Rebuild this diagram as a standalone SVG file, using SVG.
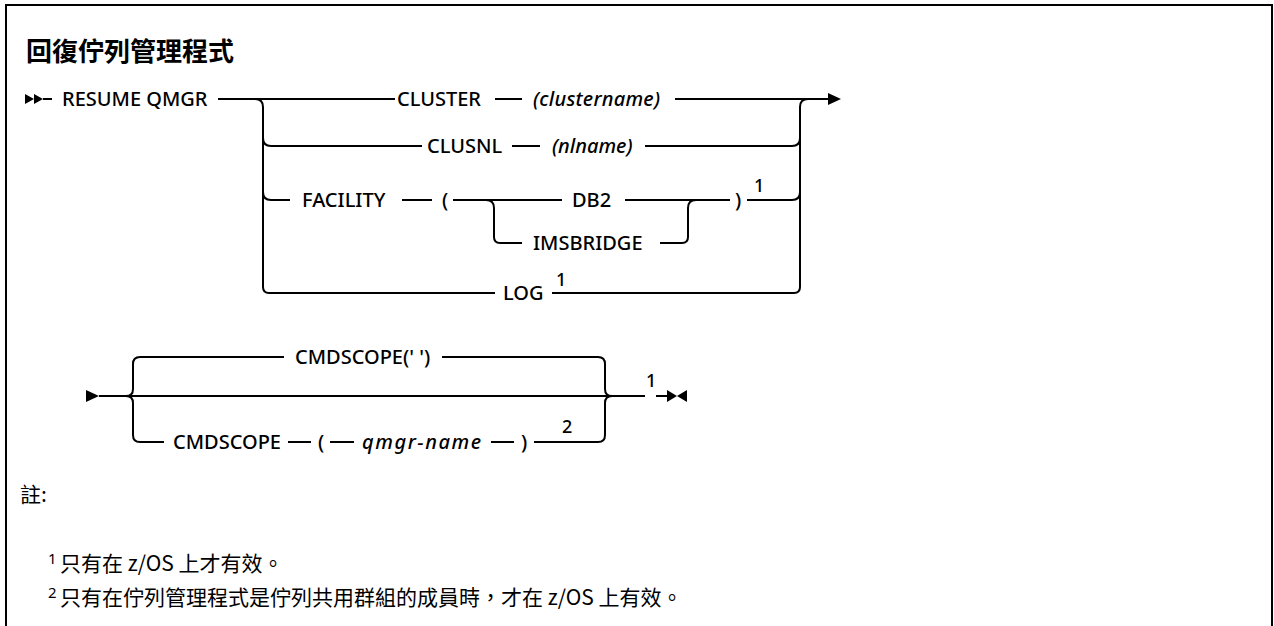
<svg xmlns="http://www.w3.org/2000/svg" width="1274" height="626" viewBox="0 0 1274 626">
<style>
.t{font-family:"Noto Sans","Liberation Sans",sans-serif;font-size:20px;font-weight:500;fill:#000}
.i{font-style:italic}
.sup{font-family:"Noto Sans","Liberation Sans",sans-serif;font-size:18px;font-weight:500;fill:#000}
.title{font-family:"Noto Sans CJK TC","Noto Sans",sans-serif;font-weight:bold;font-size:26px;fill:#000}
.note{font-family:"Noto Sans CJK TC","Noto Sans",sans-serif;font-size:21px;fill:#000}
.nsup{font-family:"Noto Sans","Noto Sans CJK TC",sans-serif;font-size:15px;fill:#000}
.ln{fill:none;stroke:#000;stroke-width:2}
.ah{fill:#000;stroke:none}
</style>
<rect x="6" y="5" width="1266" height="700" fill="#fff" stroke="#000" stroke-width="2"/>
<text class="title" x="26" y="61">回復佇列管理程式</text>
<g id="connectors">
<polygon class="ah" points="25,94 34,99 25,104"/>
<polygon class="ah" points="34,94 43,99 34,104"/>
<path class="ln" d="M43 99 H52"/>
<path class="ln" d="M218 99 H395 M495 99 H522 M675 99 H828"/>
<polygon class="ah" points="828,93 841,99 828,105"/>
<path class="ln" d="M255 99 Q263 99 263 107 V287 Q263 293 269 293 H495"/>
<path class="ln" d="M263 138 Q263 146 271 146 H422 M512 146 H540 M645 146 H792 Q800 146 800 138"/>
<path class="ln" d="M808 99 Q800 99 800 107 V287 Q800 293 794 293 H552"/>
<path class="ln" d="M263 192 Q263 200 271 200 H290 M402 200 H432 M453 200 H562 M625 200 H730 M747 200 H792 Q800 200 800 192"/>
<path class="ln" d="M486 200 Q494 200 494 208 V237 Q494 243 500 243 H522 M660 243 H682 Q688 243 688 237 V208 Q688 200 696 200"/>
<polygon class="ah" points="86,390 99,396 86,402"/>
<path class="ln" d="M99 396 H645 M656 396 H667"/>
<path class="ln" d="M126 396 Q133 396 133 389 V364 Q133 357 140 357 H284 M126 396 Q133 396 133 403 V435 Q133 442 140 442 H164"/>
<path class="ln" d="M442 357 H598 Q605 357 605 364 V389 Q605 396 612 396"/>
<path class="ln" d="M288 442 H311 M330 442 H354 M491 442 H514 M534 442 H598 Q605 442 605 435 V403 Q605 396 612 396"/>
<polygon class="ah" points="667,390 677,396 667,402"/>
<polygon class="ah" points="687,390 677,396 687,402"/>
</g>
<g id="n-resume"><text class="t" x="62" y="106">RESUME QMGR</text></g>
<g id="n-cluster"><text class="t" x="397" y="106">CLUSTER</text><text class="t i" x="533" y="106" textLength="127" lengthAdjust="spacing">(clustername)</text></g>
<g id="n-clusnl"><text class="t" x="427" y="153">CLUSNL</text><text class="t i" x="552" y="153">(nlname)</text></g>
<g id="n-facility"><text class="t" x="302" y="207">FACILITY</text><text class="t" x="442" y="207">(</text><text class="t" x="735" y="207">)</text><text class="sup" x="754" y="192">1</text></g>
<g id="n-db2"><text class="t" x="572" y="207">DB2</text></g>
<g id="n-imsbridge"><text class="t" x="533" y="250">IMSBRIDGE</text></g>
<g id="n-log"><text class="t" x="503" y="300">LOG</text><text class="sup" x="556" y="286">1</text></g>
<g id="n-cmdscope-default"><text class="t" x="295" y="364">CMDSCOPE(' ')</text></g>
<g id="n-cmdscope"><text class="t" x="173" y="449">CMDSCOPE</text><text class="t" x="318" y="449">(</text><text class="t i" x="362" y="449" textLength="119" lengthAdjust="spacing">qmgr-name</text><text class="t" x="521" y="449">)</text><text class="sup" x="562" y="433">2</text></g>
<g id="n-end"><text class="sup" x="646" y="387">1</text></g>
<g id="notes">
<text class="note" x="20" y="502">註:</text>
<text class="nsup" x="48" y="564">1</text>
<text class="note" x="60" y="571">只有在 z/OS 上才有效。</text>
<text class="nsup" x="48" y="598">2</text>
<text class="note" x="60" y="605">只有在佇列管理程式是佇列共用群組的成員時，才在 z/OS 上有效。</text>
</g>
</svg>
